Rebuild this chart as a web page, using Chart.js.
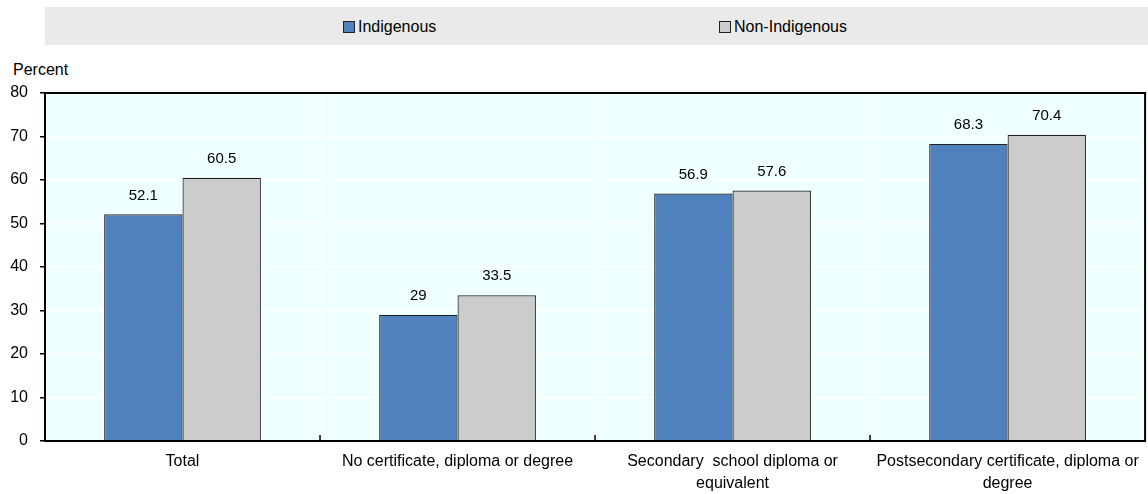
<!DOCTYPE html>
<html>
<head>
<meta charset="utf-8">
<script src="https://cdn.jsdelivr.net/npm/chart.js@4/dist/chart.umd.min.js"></script>
<style>
  body { margin: 0; background: #fff; font-family: "Liberation Sans", Arial, sans-serif; }
  #wrap { position: relative; width: 1148px; height: 494px; }
  #legend { position: absolute; left: 45px; top: 7px; width: 1103px; height: 38px; background: #eaeaea; }
  .item { position: absolute; top: 10px; font-size: 16px; color: #000; line-height: 20px; }
  .box { display: inline-block; width: 10px; height: 10px; border: 1px solid #222; margin-right: 3px; vertical-align: -1px; }
  #unit { position: absolute; left: 13px; top: 61px; font-size: 16px; }
  canvas { position: absolute; left: 0; top: 0; }
</style>
</head>
<body>
<div id="wrap">
  <div id="legend">
    <div class="item" style="left:298px"><span class="box" style="background:#4f81bd"></span>Indigenous</div>
    <div class="item" style="left:674px"><span class="box" style="background:#cccccc"></span>Non-Indigenous</div>
  </div>
  <div id="unit">Percent</div>
  <canvas id="grafica" width="1148" height="494"></canvas>
</div>
<script>
// datos
const categorias = [
  "Total",
  "No certificate, diploma or degree",
  ["Secondary  school diploma or", "equivalent"],
  ["Postsecondary certificate, diploma or", "degree"]
];
const indigenous = [52.1, 29, 56.9, 68.3];
const nonIndigenous = [60.5, 33.5, 57.6, 70.4];
const ticksY = [0, 10, 20, 30, 40, 50, 60, 70, 80];

const fuente = "'Liberation Sans', Arial, sans-serif";

// fondo del area y marco
const fondo = {
  id: "fondo",
  beforeDraw(chart) {
    const { ctx, chartArea: a } = chart;
    ctx.save();
    ctx.fillStyle = "#f0ffff";
    ctx.fillRect(a.left, a.top, a.right - a.left, a.bottom - a.top);
    ctx.restore();
  },
  afterDatasetsDraw(chart) {
    const { ctx, chartArea: a } = chart;
    ctx.save();
    ctx.strokeStyle = "#000";
    ctx.lineWidth = 2;
    ctx.strokeRect(a.left, a.top, a.right - a.left, a.bottom - a.top);
    // marcas pequeñas entre categorias
    const x = chart.scales.x;
    ctx.lineWidth = 1.5;
    for (let i = 1; i < categorias.length; i++) {
      const px = (x.getPixelForValue(i - 1) + x.getPixelForValue(i)) / 2;
      ctx.beginPath();
      ctx.moveTo(px, a.bottom);
      ctx.lineTo(px, a.bottom - 6);
      ctx.stroke();
    }
    // etiquetas de valores
    ctx.fillStyle = "#000";
    ctx.font = "15px " + fuente;
    ctx.textAlign = "center";
    ctx.textBaseline = "middle";
    chart.data.datasets.forEach((ds, d) => {
      chart.getDatasetMeta(d).data.forEach((bar, i) => {
        ctx.fillText(String(ds.data[i]), bar.x, bar.y - 19);
      });
    });
    ctx.restore();
  }
};

new Chart(document.getElementById("grafica").getContext("2d"), {
  type: "bar",
  data: {
    labels: categorias,
    datasets: [
      { label: "Indigenous", data: indigenous, backgroundColor: "#4f81bd", borderColor: "#222", borderWidth: 1.2 },
      { label: "Non-Indigenous", data: nonIndigenous, backgroundColor: "#cccccc", borderColor: "#222", borderWidth: 1.2 }
    ]
  },
  options: {
    responsive: false,
    animation: false,
    events: [],
    categoryPercentage: 0.57,
    barPercentage: 1,
    layout: { padding: { top: 93, right: 2, left: 0, bottom: 0 } },
    plugins: { legend: { display: false }, tooltip: { enabled: false } },
    scales: {
      x: {
        grid: { color: "#ffffff", lineWidth: 1.5, drawTicks: false, offset: true },
        border: { display: false },
        ticks: { color: "#000", font: { size: 16, family: fuente, lineHeight: 1.4 }, padding: 9, maxRotation: 0, autoSkip: false },
        afterFit(s) { s.height = 53; }
      },
      y: {
        min: 0, max: 80,
        afterBuildTicks(s) { s.ticks = ticksY.map(v => ({ value: v })); },
        grid: { color: "#ffffff", lineWidth: 1.5, tickColor: "#000", tickLength: 5 },
        border: { display: false },
        ticks: { color: "#000", font: { size: 16, family: fuente }, padding: 12 },
        afterFit(s) { s.width = 45; }
      }
    }
  },
  plugins: [fondo]
});
</script>
</body>
</html>
